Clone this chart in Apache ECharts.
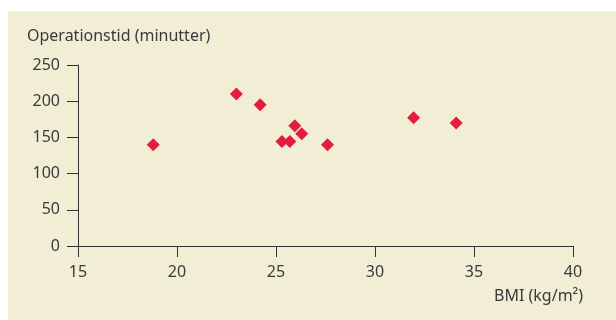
<!DOCTYPE html>
<html>
<head>
<meta charset="utf-8">
<script src="https://cdn.jsdelivr.net/npm/echarts@6/dist/echarts.min.js"></script>
<style>
html,body{margin:0;padding:0;background:#ffffff;}
#chart{width:616px;height:320px;}
</style>
</head>
<body>
<div id="chart"></div>
<script>
const bmi = [18.8, 23.0, 24.2, 25.3, 25.7, 25.95, 26.3, 27.6, 31.95, 34.1];
const minutes = [140, 210, 195, 144.5, 144.5, 166, 155, 140, 177, 170];
const yTitle = 'Operationstid (minutter)';
const xTitle = 'BMI (kg/m²)';

const points = bmi.map((v, i) => [v, minutes[i]]);
const FONT = 'Noto Sans';
const TXT = '#3a3a3a';
const chart = echarts.init(document.getElementById('chart'), null, {renderer: 'canvas'});
chart.setOption({
  animation: false,
  backgroundColor: '#ffffff',
  graphic: [
    {type: 'rect', z: -10, shape: {x: 8, y: 11, width: 608, height: 309}, style: {fill: '#f2eed6'}},
    {type: 'text', left: 27, top: 28, style: {text: yTitle, fill: TXT, font: '16px "Noto Sans"'}},
    {type: 'text', right: 33, top: 288, style: {text: xTitle, fill: TXT, font: '16px "Noto Sans"'}}
  ],
  grid: {left: 78, right: 43, top: 65, bottom: 74},
  xAxis: {
    type: 'value', min: 15, max: 40, interval: 5,
    axisLine: {show: true, lineStyle: {color: '#333', width: 1}},
    axisTick: {show: true, length: 11, lineStyle: {color: '#333'}},
    splitLine: {show: false},
    axisLabel: {color: TXT, fontFamily: FONT, fontSize: 16, margin: 18}
  },
  yAxis: {
    type: 'value', min: 0, max: 250, interval: 50,
    axisLine: {show: true, lineStyle: {color: '#333', width: 1}},
    axisTick: {show: true, length: 11, lineStyle: {color: '#333'}},
    splitLine: {show: false},
    axisLabel: {color: TXT, fontFamily: FONT, fontSize: 16, margin: 18}
  },
  series: [{
    type: 'scatter',
    data: points,
    symbol: 'diamond',
    symbolSize: 13,
    itemStyle: {color: '#e41c3d', opacity: 1}
  }]
});
</script>
</body>
</html>
